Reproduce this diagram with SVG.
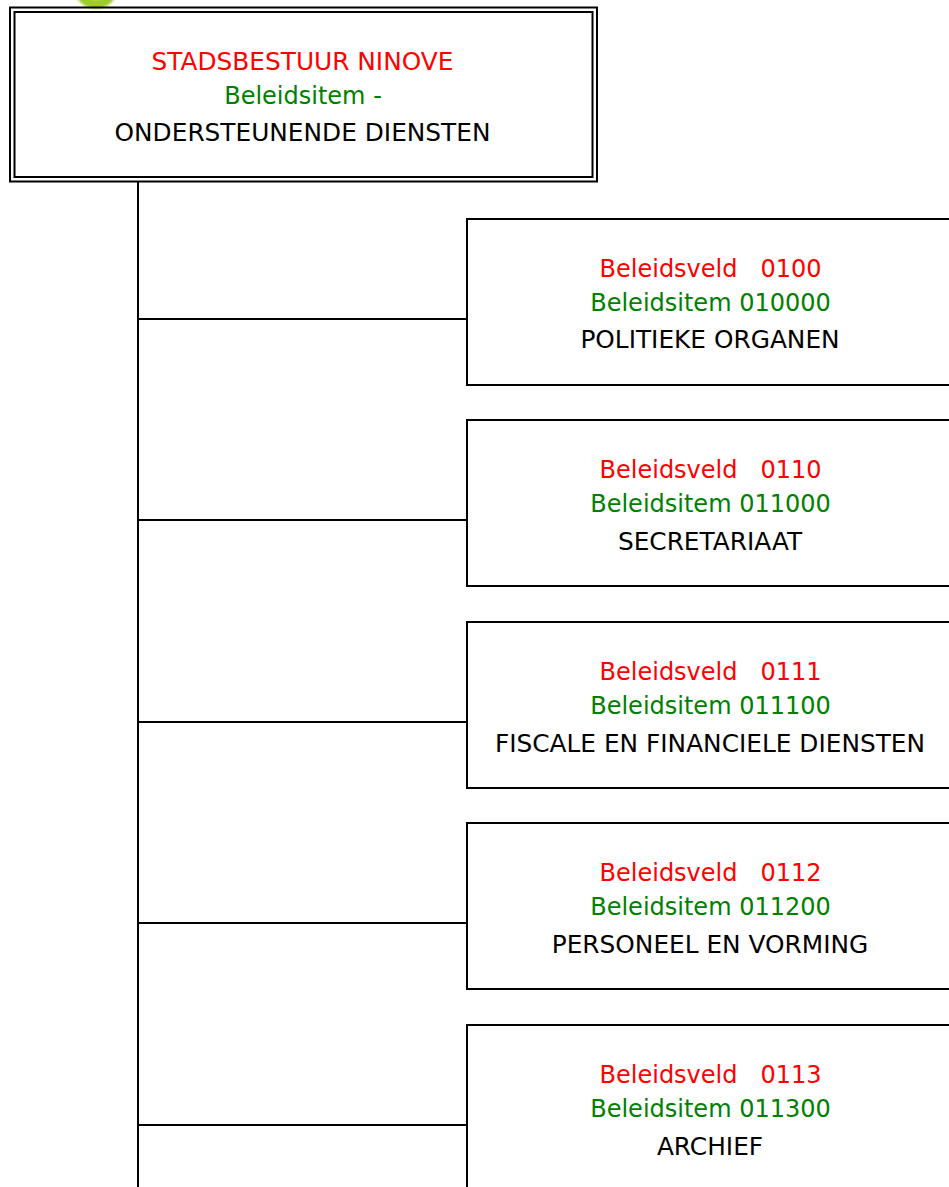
<svg xmlns="http://www.w3.org/2000/svg" width="949" height="1187" viewBox="0 0 949 1187">
<style>
.box{fill:#fff;stroke:#000;stroke-width:2}
.dbl{fill:none;stroke:#000;stroke-width:2}
.con{stroke:#000;stroke-width:2;fill:none}
text{font-family:"DejaVu Sans","Verdana",sans-serif;font-size:24.8px;text-anchor:middle;white-space:pre}
.r{fill:#ff0000}
.g{fill:#008000}
.k{fill:#000}
.m{font-size:24px}
</style>
<defs>
<filter id="blur" x="-50%" y="-50%" width="200%" height="200%"><feGaussianBlur stdDeviation="1.2"/></filter>
</defs>
<rect width="949" height="1187" fill="#fff"/>
<g id="logo-fragment">
<circle cx="96" cy="-14" r="18" fill="none" stroke="#9ccc2a" stroke-width="9" filter="url(#blur)"/>
</g>
<g id="connectors">
<line class="con" x1="138" y1="182" x2="138" y2="1187"/>
<line class="con" x1="138" y1="319" x2="467" y2="319"/>
<line class="con" x1="138" y1="520" x2="467" y2="520"/>
<line class="con" x1="138" y1="722" x2="467" y2="722"/>
<line class="con" x1="138" y1="923" x2="467" y2="923"/>
<line class="con" x1="138" y1="1125" x2="467" y2="1125"/>
</g>
<g id="root">
<rect class="dbl" x="10" y="7.5" width="587" height="174"/>
<rect class="dbl" x="14.5" y="12" width="578" height="165"/>
<text class="r" x="302.5" y="70">STADSBESTUUR NINOVE</text>
<text class="g m" x="303" y="104">Beleidsitem -</text>
<text class="k" x="302.5" y="141">ONDERSTEUNENDE DIENSTEN</text>
</g>
<g id="node-0100">
<rect class="box" x="467" y="219" width="500" height="166"/>
<text class="r m" x="710.5" y="277">Beleidsveld   0100</text>
<text class="g m" x="710.5" y="311">Beleidsitem 010000</text>
<text class="k" x="710" y="348">POLITIEKE ORGANEN</text>
</g>
<g id="node-0110">
<rect class="box" x="467" y="420" width="500" height="166"/>
<text class="r m" x="710.5" y="478">Beleidsveld   0110</text>
<text class="g m" x="710.5" y="512">Beleidsitem 011000</text>
<text class="k" x="710" y="550">SECRETARIAAT</text>
</g>
<g id="node-0111">
<rect class="box" x="467" y="622" width="500" height="166"/>
<text class="r m" x="710.5" y="680">Beleidsveld   0111</text>
<text class="g m" x="710.5" y="714">Beleidsitem 011100</text>
<text class="k" x="710" y="752">FISCALE EN FINANCIELE DIENSTEN</text>
</g>
<g id="node-0112">
<rect class="box" x="467" y="823" width="500" height="166"/>
<text class="r m" x="710.5" y="881">Beleidsveld   0112</text>
<text class="g m" x="710.5" y="915">Beleidsitem 011200</text>
<text class="k" x="710" y="953">PERSONEEL EN VORMING</text>
</g>
<g id="node-0113">
<rect class="box" x="467" y="1025" width="500" height="200"/>
<text class="r m" x="710.5" y="1083">Beleidsveld   0113</text>
<text class="g m" x="710.5" y="1117">Beleidsitem 011300</text>
<text class="k" x="710" y="1155">ARCHIEF</text>
</g>
</svg>
